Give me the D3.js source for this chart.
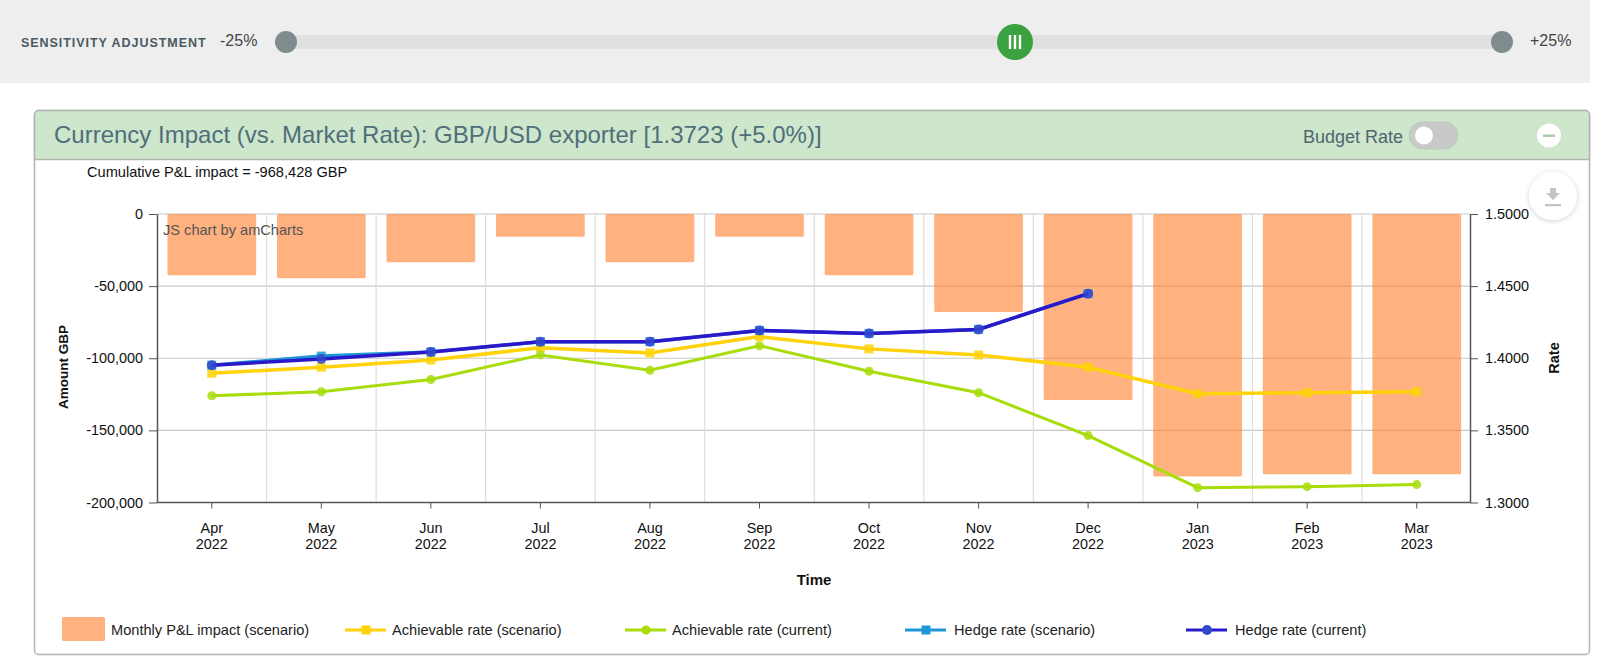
<!DOCTYPE html>
<html>
<head>
<meta charset="utf-8">
<script src="https://cdn.jsdelivr.net/npm/d3@7/dist/d3.min.js"></script>
<style>
  html, body { margin: 0; padding: 0; background: #fff; }
  svg { display: block; font-family: "Liberation Sans", Arial, sans-serif; }
  .axis path, .axis line { stroke: #555; }
  .axis text { fill: #111; font-size: 14.4px; }
</style>
</head>
<body>
<svg id="chart" width="1600" height="665"></svg>
<script>
const months = ["Apr 2022", "May 2022", "Jun 2022", "Jul 2022", "Aug 2022", "Sep 2022", "Oct 2022", "Nov 2022", "Dec 2022", "Jan 2023", "Feb 2023", "Mar 2023"]
const monthlyImpact = [-42500, -44500, -33500, -15800, -33500, -15800, -42500, -68000, -129000, -182000, -180500, -180500]
const achievableScenario = [1.3896, 1.3938, 1.3988, 1.4073, 1.4037, 1.4150, 1.4065, 1.4023, 1.3938, 1.3754, 1.3761, 1.3768]
const achievableCurrent = [1.3740, 1.3768, 1.3853, 1.4023, 1.3917, 1.4087, 1.3910, 1.3761, 1.3464, 1.3103, 1.3110, 1.3124]
const hedgeScenario = [1.3952, 1.4015, 1.4044, 1.4115, 1.4115, 1.4193, 1.4172, 1.4200, 1.4448]
const hedgeCurrent = [1.3952, 1.3995, 1.4044, 1.4115, 1.4115, 1.4193, 1.4172, 1.4200, 1.4448]
const amountTicks = [0, -50000, -100000, -150000, -200000]
const rateTicks = [1.5, 1.45, 1.4, 1.35, 1.3]

const svg = d3.select("#chart")

// top slider strip
svg.append("rect").attr("width", 1590).attr("height", 83).attr("fill", "#eeeeee")
svg.append("text").attr("x", 21).attr("y", 47).attr("font-size", 12.5).attr("font-weight", "bold")
  .attr("letter-spacing", 0.95).attr("fill", "#4a5a63").text("SENSITIVITY ADJUSTMENT")
svg.append("text").attr("x", 220).attr("y", 46).attr("font-size", 16).attr("fill", "#444").text("-25%")
svg.append("text").attr("x", 1530).attr("y", 46).attr("font-size", 16).attr("fill", "#444").text("+25%")
svg.append("rect").attr("x", 286).attr("y", 35).attr("width", 1216).attr("height", 14).attr("fill", "#e0e0e0")
svg.selectAll(".knob").data([286, 1502]).join("circle").attr("class", "knob")
  .attr("cx", d => d).attr("cy", 42).attr("r", 11).attr("fill", "#7f8c8d")
svg.append("circle").attr("cx", 1015).attr("cy", 42).attr("r", 18).attr("fill", "#3aa241")
svg.selectAll(".grip").data([-5, 0, 5]).join("rect").attr("class", "grip")
  .attr("x", d => 1015 + d - 1.2).attr("y", 35).attr("width", 2.4).attr("height", 14).attr("fill", "#fff")

// panel
svg.append("rect").attr("x", 34.5).attr("y", 110.5).attr("width", 1555).attr("height", 544)
  .attr("rx", 4).attr("fill", "#fff").attr("stroke", "#b5b5b5").attr("stroke-width", 1.5)
svg.append("path").attr("d", "M34.5 159.5V114.5a4 4 0 0 1 4-4H1585.5a4 4 0 0 1 4 4V159.5Z")
  .attr("fill", "#cde6cc").attr("stroke", "#b0b5b0").attr("stroke-width", 1.5)
svg.append("text").attr("x", 54).attr("y", 143).attr("font-size", 24).attr("fill", "#4f6f7a")
  .text("Currency Impact (vs. Market Rate): GBP/USD exporter [1.3723 (+5.0%)]")
svg.append("text").attr("x", 1303).attr("y", 143).attr("font-size", 18).attr("fill", "#4f6670").text("Budget Rate")
svg.append("rect").attr("x", 1409).attr("y", 122).attr("width", 49).attr("height", 27).attr("rx", 13.5)
  .attr("fill", "#c9c9c9").attr("stroke", "#b9cdb8")
svg.append("circle").attr("cx", 1424).attr("cy", 135.5).attr("r", 9).attr("fill", "#fff")
svg.append("circle").attr("cx", 1549).attr("cy", 135.5).attr("r", 12).attr("fill", "#fff")
svg.append("rect").attr("x", 1543).attr("y", 134.5).attr("width", 12).attr("height", 2.4).attr("fill", "#a9c9a9")

// download button
const shadow = svg.append("defs").append("filter").attr("id", "soft")
  .attr("x", "-30%").attr("y", "-30%").attr("width", "160%").attr("height", "160%")
shadow.append("feDropShadow").attr("dx", 0).attr("dy", 1).attr("stdDeviation", 2.5).attr("flood-color", "#000").attr("flood-opacity", 0.2)
svg.append("circle").attr("cx", 1553).attr("cy", 196).attr("r", 24).attr("fill", "#fff").attr("filter", "url(#soft)")
svg.append("path").attr("d", "M1550 188h6v5h4l-7 7-7-7h4Z").attr("fill", "#c4c4c4")
svg.append("rect").attr("x", 1545).attr("y", 204).attr("width", 16).attr("height", 2.2).attr("fill", "#c4c4c4")

svg.append("text").attr("x", 87).attr("y", 177).attr("font-size", 14.6).attr("fill", "#111")
  .text("Cumulative P&L impact = -968,428 GBP")

// chart
const plotLeft = 157, plotRight = 1470, plotTop = 214, plotBottom = 502.5

const x = d3.scaleBand().domain(months).range([plotLeft, plotRight + 1.5]).paddingInner(0.19).paddingOuter(0.095)
const yAmount = d3.scaleLinear().domain([-200000, 0]).range([plotBottom, plotTop])
const yRate = d3.scaleLinear().domain([1.3, 1.5]).range([plotBottom, plotTop])
const center = m => x(m) + x.bandwidth() / 2

const plot = svg.append("g")
plot.selectAll(".hgrid").data(amountTicks).join("line").attr("class", "hgrid")
  .attr("x1", plotLeft).attr("x2", plotRight).attr("y1", d => yAmount(d)).attr("y2", d => yAmount(d))
  .attr("stroke", "#c8c8c8").attr("stroke-width", 1.2)
plot.selectAll(".vgrid").data(months.slice(1)).join("line").attr("class", "vgrid")
  .attr("x1", d => x(d) - x.step() * 0.095).attr("x2", d => x(d) - x.step() * 0.095)
  .attr("y1", plotTop).attr("y2", plotBottom).attr("stroke", "#dedede").attr("stroke-width", 1.2)

plot.selectAll(".bar").data(months).join("rect").attr("class", "bar")
  .attr("x", d => x(d)).attr("width", x.bandwidth())
  .attr("y", yAmount(0))
  .attr("height", (d, i) => yAmount(monthlyImpact[i]) - yAmount(0))
  .attr("rx", 1.5)
  .attr("fill", "#ff7f2a").attr("fill-opacity", 0.6)

svg.append("text").attr("x", 163).attr("y", 235).attr("font-size", 14.6).attr("fill", "#555").text("JS chart by amCharts")

const seriesList = [
  { name: "Achievable rate (scenario)", values: achievableScenario, color: "#ffd20a", line: 3.5, shape: "square", size: 4.5, legendX: 345, textX: 47 },
  { name: "Achievable rate (current)", values: achievableCurrent, color: "#a8dc0a", line: 3, shape: "circle", size: 4.5, legendX: 625, textX: 47 },
  { name: "Hedge rate (scenario)", values: hedgeScenario, color: "#1e96d8", line: 3.5, shape: "square", size: 4.5, legendX: 905, textX: 49 },
  { name: "Hedge rate (current)", values: hedgeCurrent, color: "#2b18c8", line: 3.5, shape: "circle", size: 5, legendX: 1186, textX: 49 }
]
const markerColor = { "Hedge rate (current)": "#3347cc" }

const rateLine = d3.line().x((d, i) => center(months[i])).y(d => yRate(d))

function marker(g, s) {
  const fill = markerColor[s.name] || s.color
  if (s.shape === "square") {
    return g.append("rect").attr("x", -s.size).attr("y", -s.size).attr("width", s.size * 2).attr("height", s.size * 2)
      .attr("fill", fill)
  }
  return g.append("circle").attr("r", s.size).attr("fill", fill)
}

seriesList.forEach(s => {
  plot.append("path").attr("d", rateLine(s.values)).attr("fill", "none").attr("stroke", s.color).attr("stroke-width", s.line)
  s.values.forEach((v, i) => {
    const g = plot.append("g").attr("transform", `translate(${center(months[i])},${yRate(v)})`)
    marker(g, s).attr("opacity", 0.85)
  })
})

// axes
const xAxis = d3.axisBottom(x).tickSize(6).tickSizeOuter(0).tickFormat("")
const xG = svg.append("g").attr("class", "axis").attr("transform", `translate(0,${plotBottom})`).call(xAxis)
xG.select(".domain").attr("d", `M${plotLeft},0H${plotRight}`).attr("stroke-width", 1.5)
xG.selectAll(".tick").append("text")
  .attr("text-anchor", "middle").attr("fill", "#111")
  .selectAll("tspan").data(d => d.split(" ")).join("tspan")
  .attr("x", 0).attr("y", (d, i) => 30 + i * 16).text(d => d)

// amCharts prints a plain hyphen, not the minus sign d3.format gives
const amountFormat = d => d3.format(",d")(d).replace("\u2212", "-")
const leftAxis = d3.axisLeft(yAmount).tickValues(amountTicks).tickSize(8).tickSizeOuter(0).tickPadding(6).tickFormat(amountFormat)
svg.append("g").attr("class", "axis").attr("transform", `translate(${plotLeft},0)`).call(leftAxis)
  .select(".domain").attr("stroke-width", 1.5)
const rightAxis = d3.axisRight(yRate).tickValues(rateTicks).tickSize(8).tickSizeOuter(0).tickPadding(7).tickFormat(d3.format(".4f"))
svg.append("g").attr("class", "axis").attr("transform", `translate(${plotRight},0)`).call(rightAxis)
  .select(".domain").attr("stroke-width", 1.5)

svg.append("text").attr("transform", "translate(68,367) rotate(-90)").attr("text-anchor", "middle")
  .attr("font-size", 13.5).attr("font-weight", "bold").attr("fill", "#111").text("Amount GBP")
svg.append("text").attr("transform", "translate(1559,358) rotate(-90)").attr("text-anchor", "middle")
  .attr("font-size", 14.5).attr("font-weight", "bold").attr("fill", "#111").text("Rate")
svg.append("text").attr("x", 814).attr("y", 585).attr("text-anchor", "middle")
  .attr("font-size", 15).attr("font-weight", "bold").attr("fill", "#111").text("Time")

// legend
const legendY = 630
svg.append("rect").attr("x", 62).attr("y", 617).attr("width", 43).attr("height", 24).attr("rx", 1.5)
  .attr("fill", "#ff7f2a").attr("fill-opacity", 0.6)
svg.append("text").attr("x", 111).attr("y", legendY + 5).attr("font-size", 14.6).attr("fill", "#222").text("Monthly P&L impact (scenario)")
seriesList.forEach(s => {
  const g = svg.append("g").attr("transform", `translate(${s.legendX},${legendY})`)
  g.append("line").attr("x1", 0).attr("x2", 41).attr("stroke", s.color).attr("stroke-width", 3)
  const m = g.append("g").attr("transform", "translate(21,0)")
  marker(m, s)
  g.append("text").attr("x", s.textX).attr("y", 5).attr("font-size", 14.6).attr("fill", "#222").text(s.name)
})
</script>
</body>
</html>
